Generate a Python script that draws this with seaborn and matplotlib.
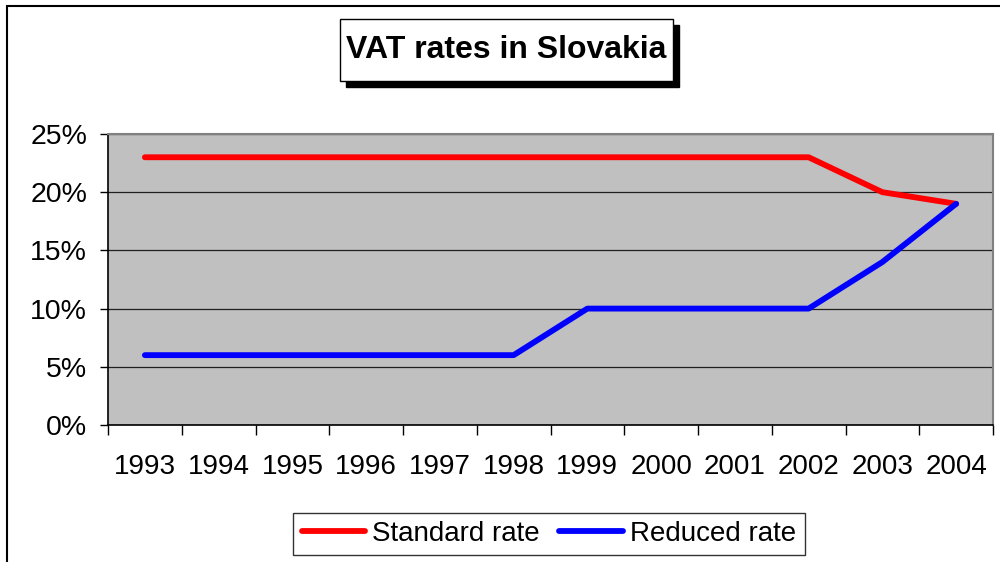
import matplotlib
matplotlib.use("Agg")
import matplotlib.pyplot as plt
from matplotlib.patches import Rectangle
from matplotlib.ticker import FuncFormatter
import seaborn as sns
import pandas as pd

# data
years = [1993, 1994, 1995, 1996, 1997, 1998, 1999, 2000, 2001, 2002, 2003, 2004]
standard_rate = [0.23, 0.23, 0.23, 0.23, 0.23, 0.23, 0.23, 0.23, 0.23, 0.23, 0.20, 0.19]
reduced_rate = [0.06, 0.06, 0.06, 0.06, 0.06, 0.06, 0.10, 0.10, 0.10, 0.10, 0.14, 0.19]
series_names = ["Standard rate", "Reduced rate"]
title = "VAT rates in Slovakia"

df = pd.DataFrame({"year": years * 2,
                   "rate": standard_rate + reduced_rate,
                   "series": [series_names[0]] * len(years) + [series_names[1]] * len(years)})

sns.set_style("white")
plt.rcParams['font.family'] = ['Liberation Sans', 'DejaVu Sans']
plt.rcParams['text.color'] = 'black'
plt.rcParams['xtick.color'] = 'black'
plt.rcParams['ytick.color'] = 'black'

fig = plt.figure(figsize=(10, 5.62), dpi=100)
ax = fig.add_axes([0.108, 0.2438, 0.885, 0.5178])
ax.set_facecolor("#c0c0c0")

sns.lineplot(data=df, x="year", y="rate", hue="series", palette=["#ff0000", "#0000ff"],
             linewidth=4.2, ax=ax, legend=True)
for ln in ax.lines:
    ln.set_solid_capstyle("round")
    ln.set_solid_joinstyle("round")

ax.set_xlim(years[0] - 0.5, years[-1] + 0.5)
ax.set_ylim(0, 0.25)
ax.set_yticks([0, 0.05, 0.10, 0.15, 0.20, 0.25])
ax.yaxis.set_major_formatter(FuncFormatter(lambda v, p: f"{v * 100:.0f}%"))
ax.grid(axis="y", color="#202020", linewidth=0.9)
ax.set_axisbelow(True)

# tick marks between categories, labels under category centres
ax.set_xticks([y - 0.5 for y in years] + [years[-1] + 0.5])
ax.set_xticklabels([])
ax.set_xticks(years, minor=True)
ax.set_xticklabels([str(y) for y in years], minor=True)
ax.tick_params(axis="x", which="major", direction="out", length=7, width=1, color="black", bottom=True)
ax.tick_params(axis="x", which="minor", length=0, pad=21, labelsize=20, labelcolor="black")
ax.tick_params(axis="y", direction="out", length=6, width=1, color="black", left=True, pad=9,
               labelsize=20.5, labelcolor="black")
ax.set_xlabel("")
ax.set_ylabel("")

for side in ["left", "bottom"]:
    ax.spines[side].set_color("black")
    ax.spines[side].set_linewidth(1.2)
for side in ["top", "right"]:
    ax.spines[side].set_color("#808080")
    ax.spines[side].set_linewidth(1.5)

handles, labels = ax.get_legend_handles_labels()
leg = ax.legend(handles, labels, loc="center", bbox_to_anchor=(0.549, 0.05), bbox_transform=fig.transFigure,
                ncol=2, frameon=True, fancybox=False, edgecolor="black", fontsize=20,
                handlelength=2.3, handletextpad=0.25, columnspacing=0.7, borderpad=0.3,
                borderaxespad=0.0)
leg.get_frame().set_linewidth(1.0)
for t in leg.get_texts():
    t.set_color("black")

# outer chart border (cropped on the right and bottom)
fig.patches.append(Rectangle((0.007, -0.1), 1.2, 1.089, transform=fig.transFigure,
                             fill=False, edgecolor="black", linewidth=1.5))

# title box with shadow
bx0, bx1 = 340 / 1000, 673 / 1000
by0, by1 = 1 - 81 / 562, 1 - 19 / 562
fig.patches.append(Rectangle((bx0 + 0.006, by0 - 0.011), bx1 - bx0, by1 - by0,
                             transform=fig.transFigure, facecolor="black", edgecolor="black"))
fig.patches.append(Rectangle((bx0, by0), bx1 - bx0, by1 - by0, transform=fig.transFigure,
                             facecolor="white", edgecolor="black", linewidth=1.0))
fig.text((bx0 + bx1) / 2, (by0 + by1) / 2, title, ha="center", va="center",
         fontsize=23, fontweight="bold", color="black")

fig.savefig("out.png", dpi=100)
